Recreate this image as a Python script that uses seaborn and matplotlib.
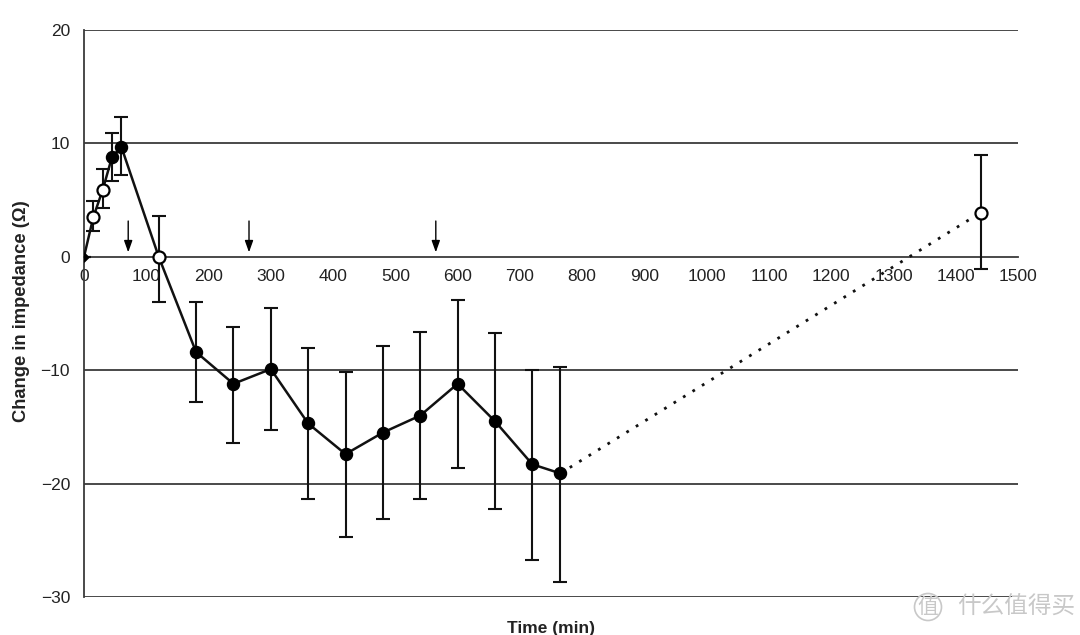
import matplotlib
matplotlib.use("Agg")
import matplotlib.pyplot as plt
import seaborn as sns
import numpy as np
import pandas as pd

# ---- data ----
time_min = [0, 15, 30, 45, 60, 120, 180, 240, 300, 360, 420, 480, 540, 600, 660, 720, 765, 1440]
mean_change = [0, 3.5, 5.9, 8.8, 9.7, 0.0, -8.4, -11.2, -9.9, -14.7, -17.4, -15.5, -14.0, -11.2, -14.5, -18.3, -19.1, 3.9]
err_upper = [0, 4.9, 7.7, 10.9, 12.3, 3.6, -4.0, -6.2, -4.5, -8.0, -10.2, -7.9, -6.6, -3.8, -6.7, -10.0, -9.7, 9.0]
err_lower = [0, 2.3, 4.3, 6.7, 7.2, -4.0, -12.8, -16.4, -15.3, -21.4, -24.7, -23.1, -21.4, -18.6, -22.2, -26.7, -28.7, -1.1]
marker_kind = ["diamond", "open", "open", "filled", "filled", "open", "filled", "filled", "filled",
               "filled", "filled", "filled", "filled", "filled", "filled", "filled", "filled", "open"]
arrow_times = [71, 265, 565]
x_ticks = list(range(0, 1501, 100))
y_ticks = [-30, -20, -10, 0, 10, 20]

df = pd.DataFrame({"time": time_min, "mean": mean_change, "hi": err_upper, "lo": err_lower, "kind": marker_kind})

sns.set_style("white")
plt.rcParams["font.family"] = ["Liberation Sans", "DejaVu Sans"]

fig = plt.figure(figsize=(10.8, 6.35), dpi=100)
ax = fig.add_axes([84 / 1080, 1 - 597 / 635, (1018 - 84) / 1080, (597 - 30) / 635])

# grid lines
for yv in y_ticks:
    if yv != 0:
        ax.axhline(yv, color="#3a3a3a", lw=1.3, zorder=1)

# error bars
ax.errorbar(df["time"], df["mean"],
            yerr=[df["mean"] - df["lo"], df["hi"] - df["mean"]],
            fmt="none", ecolor="#111111", elinewidth=1.5, capsize=5, capthick=1.5, zorder=3)

# solid line (0 .. 765) and dotted line (765 .. 1440)
solid = df[df["time"] <= 765]
dotted = df[df["time"] >= 765]
sns.lineplot(data=solid, x="time", y="mean", color="#111111", lw=1.8, ax=ax, zorder=4, sort=False)
sns.lineplot(data=dotted, x="time", y="mean", color="#111111", lw=2.0, ax=ax, zorder=4,
             linestyle=(0, (1, 3)), sort=False)

# markers
filled = df[df["kind"] == "filled"]
opened = df[df["kind"] == "open"]
diam = df[df["kind"] == "diamond"]
sns.scatterplot(data=filled, x="time", y="mean", color="black", s=75, edgecolor="black", linewidth=1, ax=ax, zorder=5)
sns.scatterplot(data=opened, x="time", y="mean", color="white", s=75, edgecolor="black", linewidth=1.6, ax=ax, zorder=5)
sns.scatterplot(data=diam, x="time", y="mean", color="black", marker="D", s=25, edgecolor="black", ax=ax, zorder=5)

# arrows
for t in arrow_times:
    ax.annotate("", xy=(t, 0.15), xytext=(t, 3.4),
                arrowprops=dict(arrowstyle="-|>,head_length=0.7,head_width=0.25", color="black", lw=1.0),
                zorder=6)

ax.set_xlim(0, 1500)
ax.set_ylim(-30, 20)
ax.set_xticks(x_ticks)
ax.set_yticks(y_ticks)
ax.set_xticklabels([str(v) for v in x_ticks])
ax.set_yticklabels(["\u221230", "\u221220", "\u221210", "0", "10", "20"])

for s in ["top", "right"]:
    ax.spines[s].set_visible(False)
ax.spines["bottom"].set_position(("data", 0))
ax.spines["bottom"].set_color("#3a3a3a")
ax.spines["bottom"].set_linewidth(1.3)
ax.spines["left"].set_color("#3a3a3a")
ax.spines["left"].set_linewidth(1.3)

ax.tick_params(axis="x", direction="in", length=5, width=1.2, pad=9, labelsize=12.5, colors="#222222")
ax.tick_params(axis="y", direction="out", length=7, width=1.2, pad=3, labelsize=12.5, colors="#222222")
ax.set_xlabel("")
ax.set_ylabel("")
ax.patch.set_alpha(0)

fig.text(22 / 1080, 1 - 311 / 635, "Change in impedance (\u03a9)", rotation=90, ha="center", va="center",
         fontsize=13.2, fontweight="bold", color="#222222")
fig.text(551 / 1080, 1 - 628 / 635, "Time (min)", ha="center", va="center",
         fontsize=12.5, fontweight="bold", color="#222222")

# watermark
fig.text(1075 / 1080, 1 - 607 / 635, "什么值得买", ha="right", va="center", fontsize=17,
         color="#c8c8c8", family=["Noto Sans CJK SC", "DejaVu Sans"])
fig.text(928 / 1080, 1 - 607 / 635, "值", ha="center", va="center", fontsize=15,
         color="#c8c8c8", family=["Noto Sans CJK SC", "DejaVu Sans"],
         bbox=dict(boxstyle="circle,pad=0.12", fc="none", ec="#c8c8c8", lw=1.2))

fig.savefig("out.png", dpi=100)
